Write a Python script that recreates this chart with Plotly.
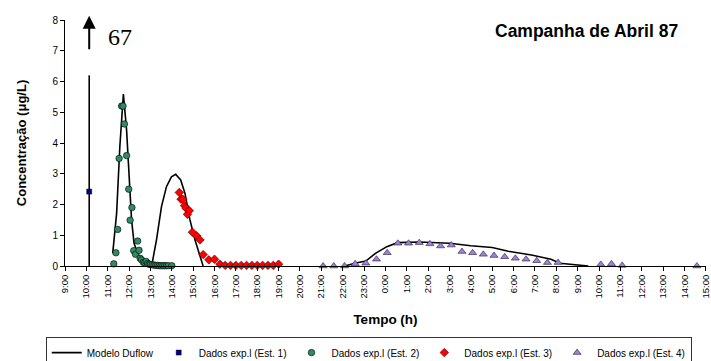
import plotly.graph_objects as go

D1 = "1987-04-14 "
D2 = "1987-04-15 "

# Modelo Duflow (continuous segments separated by None)
model_t = [D1 + "10:08", D1 + "10:08", None,
           D1 + "11:14", D1 + "11:25", D1 + "11:34", D1 + "11:44", D1 + "11:53", D1 + "12:01",
           D1 + "12:07", D1 + "12:14", D1 + "12:26", D1 + "12:45", D1 + "13:05",
           D1 + "13:17", D1 + "13:31", D1 + "13:45", D1 + "13:59", D1 + "14:11", D1 + "14:25",
           D1 + "14:37", D1 + "14:51", D1 + "15:05", D1 + "15:19", D1 + "15:28", None,
           D1 + "22:06", D1 + "22:34", D1 + "23:05", D1 + "23:32", D2 + "00:04", D2 + "00:34",
           D2 + "01:35", D2 + "03:00", D2 + "04:00", D2 + "05:00", D2 + "05:45", D2 + "06:50",
           D2 + "07:45", D2 + "08:10", D2 + "09:30"]
model_v = [0, 6.2, None,
           0.41, 1.71, 3.88, 5.59, 4.42, 2.8,
           1.5, 0.74, 0.36, 0.2, 0.1,
           0.85, 1.93, 2.58, 2.9, 2.98, 2.8,
           2.36, 1.5, 0.85, 0.3, 0.0, None,
           0.0, 0.09, 0.16, 0.41, 0.63, 0.76,
           0.78, 0.74, 0.66, 0.6, 0.48, 0.36,
           0.22, 0.09, 0.0]

est1_t = [D1 + "10:08"]
est1_v = [2.42]

est2_t = [D1 + h for h in ["11:17", "11:23", "11:28", "11:32", "11:39", "11:43", "11:47", "11:53",
                           "11:59", "12:03", "12:08", "12:13", "12:18", "12:24", "12:28", "12:31",
                           "12:35", "12:40", "12:44", "12:48", "12:52", "12:56", "13:00", "13:05",
                           "13:10", "13:15", "13:20", "13:25", "13:30", "13:35", "13:40", "13:45",
                           "13:50", "14:00"]]
est2_v = [0.07, 0.43, 1.19, 3.5, 5.2, 5.2, 4.62, 3.59,
          2.5, 1.49, 1.9, 0.5, 0.38, 0.81, 0.51, 0.25,
          0.2, 0.12, 0.1, 0.15, 0.08, 0.06, 0.05, 0.04,
          0.03, 0.02, 0.02, 0.01, 0.01, 0.01, 0.01, 0.01,
          0.01, 0.01]

est3_t = [D1 + h for h in ["14:21", "14:26", "14:31", "14:36", "14:40", "14:44", "14:49", "14:58",
                           "15:10", "15:19", "15:28", "15:44", "16:00", "16:15", "16:30", "16:45",
                           "17:00", "17:15", "17:30", "17:45", "18:00", "18:15", "18:30", "18:45",
                           "19:00"]]
est3_v = [2.39, 2.17, 2.17, 1.96, 1.88, 1.68, 1.8, 1.1,
          0.98, 0.85, 0.37, 0.2, 0.22, 0.06, 0.02, 0.02,
          0.02, 0.02, 0.02, 0.02, 0.02, 0.02, 0.02, 0.02,
          0.06]

est4_t = [D1 + "21:05", D1 + "21:35", D1 + "22:05", D1 + "22:35", D1 + "23:05", D1 + "23:35",
          D2 + "00:05", D2 + "00:35", D2 + "01:05", D2 + "01:35", D2 + "02:05", D2 + "02:35",
          D2 + "03:05", D2 + "03:35", D2 + "04:05", D2 + "04:35", D2 + "05:05", D2 + "05:35",
          D2 + "06:05", D2 + "06:35", D2 + "07:05", D2 + "07:35", D2 + "08:05",
          D2 + "10:05", D2 + "10:35", D2 + "11:05", D2 + "14:35"]
est4_v = [0, 0, 0, 0.07, 0.09, 0.22, 0.43, 0.74, 0.74, 0.76, 0.72, 0.65,
          0.68, 0.47, 0.43, 0.38, 0.34, 0.3, 0.25, 0.22, 0.17, 0.11, 0.11,
          0.05, 0.07, 0.02, 0.0]

tick_hours = list(range(9, 24)) + list(range(0, 16))
tick_vals = [(D1 if i < 15 else D2) + f"{h:02d}:00" for i, h in enumerate(tick_hours)]
tick_text = [f"{h}:00" for h in tick_hours]

FONT = "Liberation Sans, Arial, sans-serif"

fig = go.Figure()
fig.add_trace(go.Scatter(x=model_t, y=model_v, mode="lines", name="Modelo Duflow",
                         line=dict(color="black", width=1.6), connectgaps=False, cliponaxis=False))
fig.add_trace(go.Scatter(x=est1_t, y=est1_v, mode="markers", name="Dados exp.l (Est. 1)",
                         marker=dict(symbol="square", size=5, color="#000080",
                                     line=dict(color="black", width=0.5))))
fig.add_trace(go.Scatter(x=est2_t, y=est2_v, mode="markers", name="Dados exp.l (Est. 2)",
                         marker=dict(symbol="circle", size=6.5, color="#2E8B62",
                                     line=dict(color="black", width=0.6)), cliponaxis=False))
fig.add_trace(go.Scatter(x=est3_t, y=est3_v, mode="markers", name="Dados exp.l (Est. 3)",
                         marker=dict(symbol="diamond", size=6.5, color="#FF0000",
                                     line=dict(color="#600000", width=0.7)), cliponaxis=False))
fig.add_trace(go.Scatter(x=est4_t, y=est4_v, mode="markers", name="Dados exp.l (Est. 4)",
                         marker=dict(symbol="triangle-up", size=7, color="#A07EE2",
                                     line=dict(color="#202020", width=0.6)), cliponaxis=False))

# Arrow indicating value 67
fig.add_annotation(x=D1 + "10:08", y=8.14, ax=D1 + "10:08", ay=7.0, xref="x", yref="y",
                   axref="x", ayref="y", showarrow=True, arrowhead=2, arrowsize=1.3,
                   arrowwidth=2, arrowcolor="black", text="")
fig.add_annotation(x=D1 + "10:55", y=7.45, xref="x", yref="y", text="67", showarrow=False,
                   xanchor="left", font=dict(family="Liberation Serif, Times New Roman, serif",
                                             size=24, color="black"))
fig.add_annotation(x=0.814, y=0.955, xref="paper", yref="paper", xanchor="center",
                   yanchor="middle", text="<b>Campanha de Abril 87</b>",
                   showarrow=False, font=dict(family=FONT, size=17.5, color="black"))

fig.update_layout(
    width=711, height=361,
    margin=dict(l=65, r=5, t=20, b=95, autoexpand=False),
    paper_bgcolor="white", plot_bgcolor="white",
    font=dict(family=FONT, size=10, color="black"),
    showlegend=True,
    legend=dict(orientation="h", x=-0.03, y=-0.289, xanchor="left", yanchor="top",
                bordercolor="#333333", borderwidth=1, font=dict(size=10),
                itemwidth=30, tracegroupgap=0),
    xaxis=dict(type="date", range=[D1 + "09:00", D2 + "15:00:30"],
               tickvals=tick_vals, ticktext=tick_text, tickangle=-90,
               tickfont=dict(size=9.5),
               ticks="outside", ticklen=4, tickcolor="black", automargin=False,
               showline=True, linecolor="black", linewidth=1, showgrid=False, zeroline=False,
               title=dict(text="<b>Tempo (h)</b>", font=dict(size=13.5), standoff=16)),
    yaxis=dict(range=[0, 8], dtick=1, ticks="outside", ticklen=4, tickcolor="black",
               automargin=False, tickfont=dict(size=10),
               showline=True, linecolor="black", linewidth=1, showgrid=False, zeroline=False,
               title=dict(text="<b>Concentração (μg/L)</b>", font=dict(size=13), standoff=22)),
)

fig.write_html("out.html")
